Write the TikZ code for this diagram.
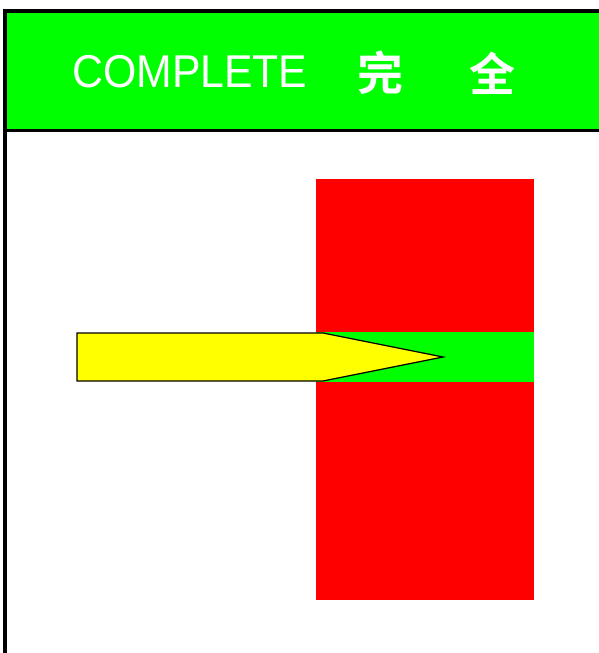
\documentclass[tikz,border=0pt]{standalone}
\usepackage{fontspec}
\usepackage{graphicx}
\setmainfont{Liberation Sans}
\newfontfamily\cjk{Noto Sans CJK SC}[BoldFont={* Bold}]
\definecolor{hgreen}{RGB}{0,255,0}
\definecolor{hred}{RGB}{255,0,0}
\definecolor{hyellow}{RGB}{255,255,0}
\begin{document}
\begin{tikzpicture}[x=1pt,y=-1pt,
  title/.style={text=white,inner sep=0pt},
  frameline/.style={line width=3.5pt,black}]
\useasboundingbox (0,0) rectangle (599,653);
% header
\fill[hgreen] (5,11) rectangle (599,130.5);
\draw[frameline] (599,11) coordinate (tr) -- (5,11) coordinate (tl) -- (5,653) coordinate (bl);
\draw[frameline] (5,130.5) coordinate (hl) -- (599,130.5) coordinate (hr);
\node[title,anchor=west,font=\fontsize{46}{46}\selectfont] (t1) at (72,72) {\scalebox{0.93}[1]{COMPLETE}};
\node[title,font=\cjk\bfseries\fontsize{46}{46}\selectfont] (t2) at (380.5,73) {完};
\node[title,font=\cjk\bfseries\fontsize{46}{46}\selectfont] (t3) at (492.5,73) {全};
% red block with green band
\fill[hred] (316,179) rectangle (534,600);
\fill[hgreen] (316,332) rectangle (534,381.5);
% yellow arrow
\draw[fill=hyellow,line width=1.2pt,line join=miter] (77,333) -- (323,333) -- (443,357) -- (323,381) -- (77,381) -- cycle;
\end{tikzpicture}
\end{document}
